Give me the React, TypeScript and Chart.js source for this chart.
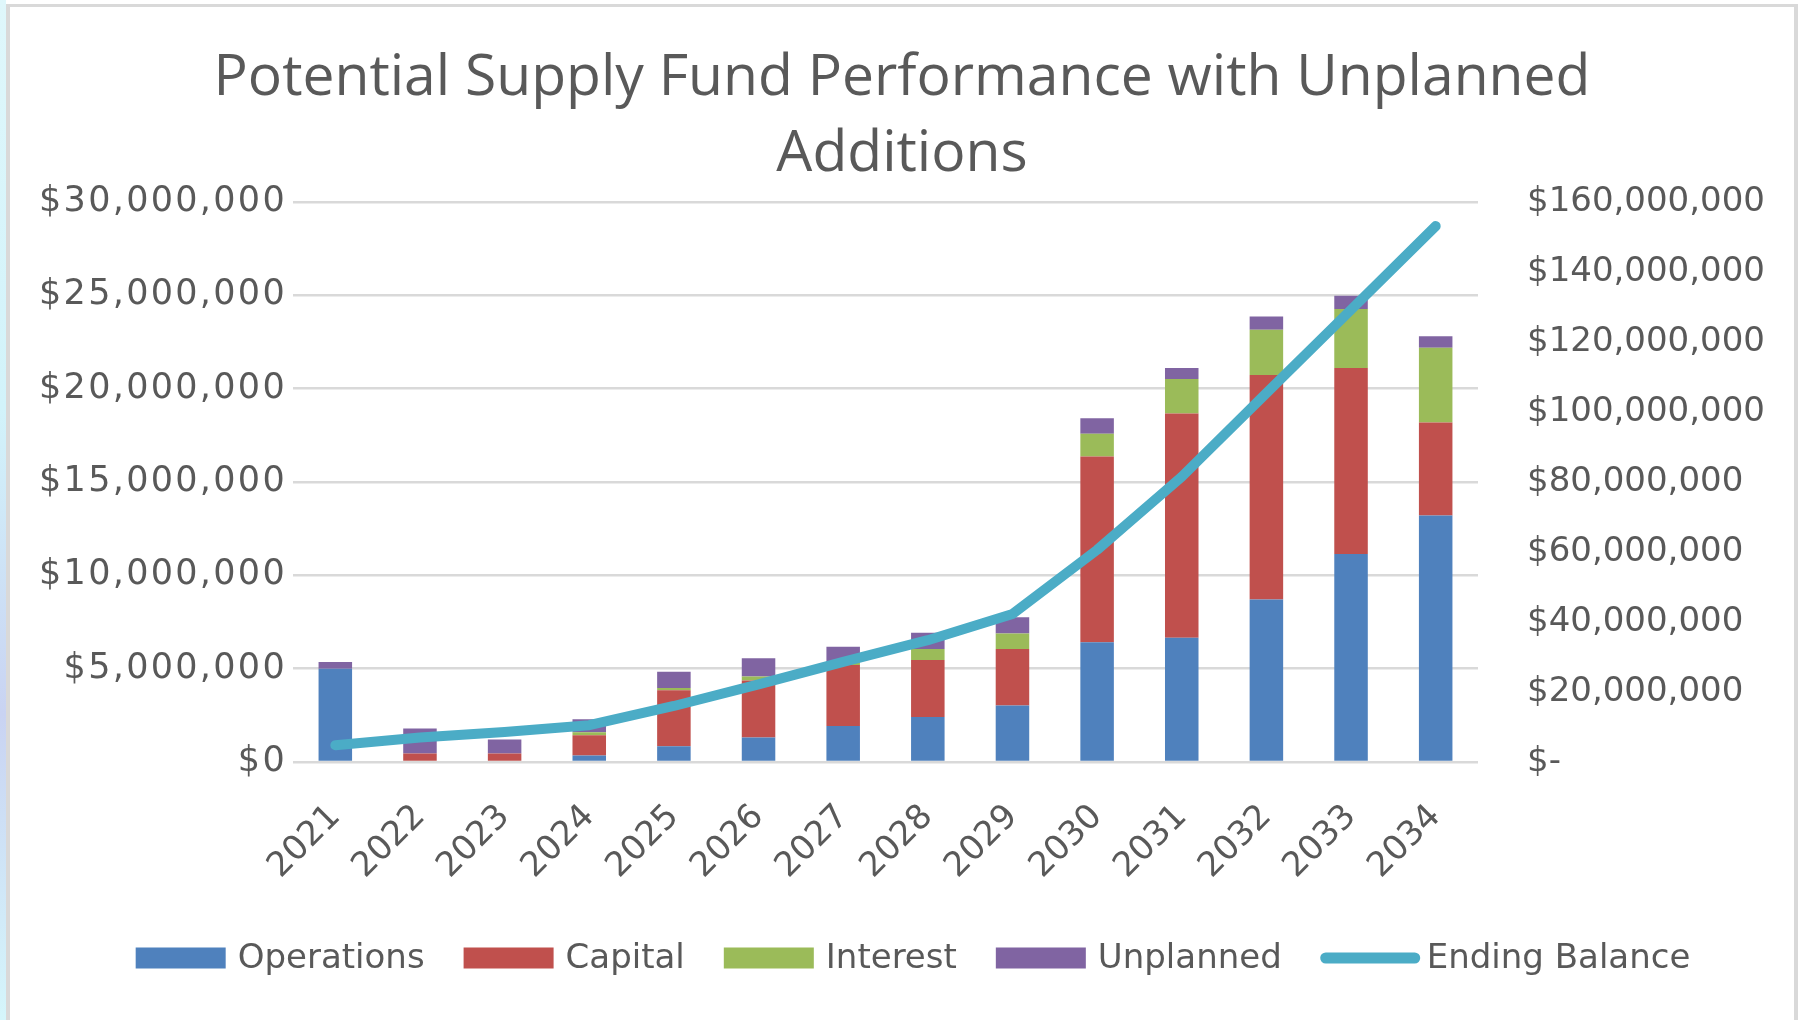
import React, { useEffect, useRef } from "react";
import { Chart, registerables } from "chart.js";

Chart.register(...registerables);

const years = ["2021", "2022", "2023", "2024", "2025", "2026", "2027", "2028", "2029", "2030", "2031", "2032", "2033", "2034"];
const operations = [5.0, 0, 0, 0.35, 0.84, 1.31, 1.93, 2.41, 3.02, 6.41, 6.65, 8.71, 11.14, 13.2];
const capital = [0, 0.45, 0.45, 1.08, 3.0, 3.06, 3.26, 3.05, 3.03, 9.95, 12.02, 12.02, 9.96, 4.99];
const interest = [0, 0, 0, 0.16, 0.12, 0.21, 0.12, 0.59, 0.84, 1.22, 1.84, 2.43, 3.17, 4.0];
const unplanned = [0.36, 1.34, 0.75, 0.7, 0.88, 0.98, 0.86, 0.87, 0.86, 0.84, 0.59, 0.71, 0.71, 0.61];
const endingBalance = [4.8, 7.0, 8.6, 10.5, 16.0, 22.2, 28.6, 34.8, 42.3, 60.6, 81.5, 105.4, 129.2, 153.1];

const M = 1000000;
const leftTicks = { min: 0, max: 30 * M, step: 5 * M };
const rightTicks = { min: 0, max: 160 * M, step: 20 * M };
const titleLines = ["Potential Supply Fund Performance with Unplanned", "Additions"];

const COLORS = {
  operations: "#4F81BD",
  capital: "#C0504D",
  interest: "#9BBB59",
  unplanned: "#8064A2",
  ending: "#4BACC6",
  text: "#595959",
  grid: "#D9D9D9",
};

const FONT = "DejaVu Sans";
const TICK_SIZE = 34;

const fmt = (v: number) => "$" + Math.round(v).toLocaleString("en-US");

const withSpacing = (s: any, spacing: string) => {
  if (s._spacingWrapped) return;
  const orig = s.drawLabels;
  s.drawLabels = function (ca: any) {
    const ctx = this.ctx;
    const prev = ctx.letterSpacing;
    ctx.letterSpacing = spacing;
    orig.call(this, ca);
    ctx.letterSpacing = prev || "0px";
  };
  s._spacingWrapped = true;
};

const legendPlugin = {
  id: "customLegend",
  afterDraw(chart: any) {
    const ctx = chart.ctx;
    const items = [
      { text: "Operations", color: COLORS.operations, type: "box" },
      { text: "Capital", color: COLORS.capital, type: "box" },
      { text: "Interest", color: COLORS.interest, type: "box" },
      { text: "Unplanned", color: COLORS.unplanned, type: "box" },
      { text: "Ending Balance", color: COLORS.ending, type: "line" },
    ];
    ctx.save();
    ctx.font = `${TICK_SIZE}px "${FONT}"`;
    ctx.letterSpacing = "0px";
    const swW = 90, swH = 21, gapBox = 12, gapLine = 7, lineW = 99, between = 39;
    let total = 0;
    const widths = items.map((it) => ctx.measureText(it.text).width);
    items.forEach((it, i) => {
      total += it.type === "box" ? swW + gapBox : lineW + gapLine;
      total += widths[i];
      if (i < items.length - 1) total += between;
    });
    const cy = 958;
    let x = 913 - total / 2;
    ctx.textBaseline = "middle";
    ctx.textAlign = "left";
    items.forEach((it, i) => {
      if (it.type === "box") {
        ctx.fillStyle = it.color;
        ctx.fillRect(x, cy - swH / 2, swW, swH);
        x += swW + gapBox;
      } else {
        ctx.strokeStyle = it.color;
        ctx.lineWidth = 11;
        ctx.lineCap = "round";
        ctx.beginPath();
        ctx.moveTo(x + 5, cy);
        ctx.lineTo(x + lineW - 5, cy);
        ctx.stroke();
        x += lineW + gapLine;
      }
      ctx.fillStyle = COLORS.text;
      ctx.fillText(it.text, x, cy + 1);
      x += widths[i] + between;
    });
    ctx.restore();
  },
};

export default function App() {
  const ref = useRef<HTMLCanvasElement | null>(null);

  useEffect(() => {
    if (!ref.current) return;
    Chart.defaults.font.family = FONT;
    const barDs = (label: string, data: number[], color: string) => ({
      type: "bar" as const,
      label,
      data: data.map((v) => v * M),
      backgroundColor: color,
      borderWidth: 0,
      yAxisID: "y",
      stack: "s",
      order: 1,
      barPercentage: 0.396,
      categoryPercentage: 1,
    });
    const chart = new Chart(ref.current, {
      data: {
        labels: years,
        datasets: [
          {
            type: "line" as const,
            label: "Ending Balance",
            data: endingBalance.map((v) => v * M),
            borderColor: COLORS.ending,
            backgroundColor: COLORS.ending,
            borderWidth: 10,
            pointRadius: 0,
            tension: 0,
            borderCapStyle: "round",
            borderJoinStyle: "round",
            yAxisID: "y1",
            order: 0,
          } as any,
          barDs("Operations", operations, COLORS.operations),
          barDs("Capital", capital, COLORS.capital),
          barDs("Interest", interest, COLORS.interest),
          barDs("Unplanned", unplanned, COLORS.unplanned),
        ],
      },
      options: {
        responsive: false,
        animation: false,
        devicePixelRatio: 1,
        layout: { padding: 0 },
        plugins: {
          legend: { display: false },
          tooltip: { enabled: false },
          title: {
            display: true,
            text: titleLines,
            color: COLORS.text,
            font: { family: "Open Sans", size: 57, weight: "normal", lineHeight: 1.333 },
            padding: { top: 41, bottom: 9 },
          },
        },
        scales: {
          x: {
            stacked: true,
            grid: { display: false },
            border: { display: false },
            ticks: {
              color: COLORS.text,
              font: { size: TICK_SIZE },
              autoSkip: false,
              maxRotation: 45,
              minRotation: 45,
              padding: 27,
            },
            afterFit: (s: any) => {
              s.height = 258;
            },
          },
          y: {
            stacked: true,
            position: "left",
            min: leftTicks.min,
            max: leftTicks.max,
            grid: { color: COLORS.grid, lineWidth: 2.5, drawTicks: false },
            border: { display: false },
            ticks: {
              stepSize: leftTicks.step,
              color: COLORS.text,
              font: { size: 35 },
              padding: 6,
              callback: (v: any) => fmt(Number(v)),
            },
            afterFit: (s: any) => {
              s.width = 293;
              withSpacing(s, "2.3px");
            },
          },
          y1: {
            position: "right",
            min: rightTicks.min,
            max: rightTicks.max,
            grid: { display: false, drawTicks: false },
            border: { display: false },
            ticks: {
              stepSize: rightTicks.step,
              color: COLORS.text,
              font: { size: TICK_SIZE },
              padding: 49,
              callback: (v: any) => (Number(v) === 0 ? "$-" : fmt(Number(v))),
            },
            afterFit: (s: any) => {
              s.width = 326;
            },
          },
        },
      } as any,
      plugins: [legendPlugin],
    });
    return () => chart.destroy();
  }, []);

  return (
    <div style={{ position: "fixed", left: 0, top: 0, width: 1804, height: 1020, background: "#fff", overflow: "hidden" }}>
      <div
        style={{
          position: "absolute",
          left: 0,
          top: 0,
          width: 6,
          height: 1020,
          background: "linear-gradient(180deg, #dff7fb 0%, #d2f3fa 40%, #c9d3f2 70%, #d5f6fb 100%)",
        }}
      />
      <div
        style={{
          position: "absolute",
          left: 6,
          top: 4,
          width: 1792,
          height: 1030,
          borderTop: "3px solid #D9D9D9",
          borderLeft: "4px solid #D9D9D9",
          borderRight: "4px solid #D9D9D9",
          boxSizing: "border-box",
        }}
      />
      <canvas ref={ref} width={1804} height={1020} style={{ position: "absolute", left: 0, top: 0, width: 1804, height: 1020 }} />
    </div>
  );
}
